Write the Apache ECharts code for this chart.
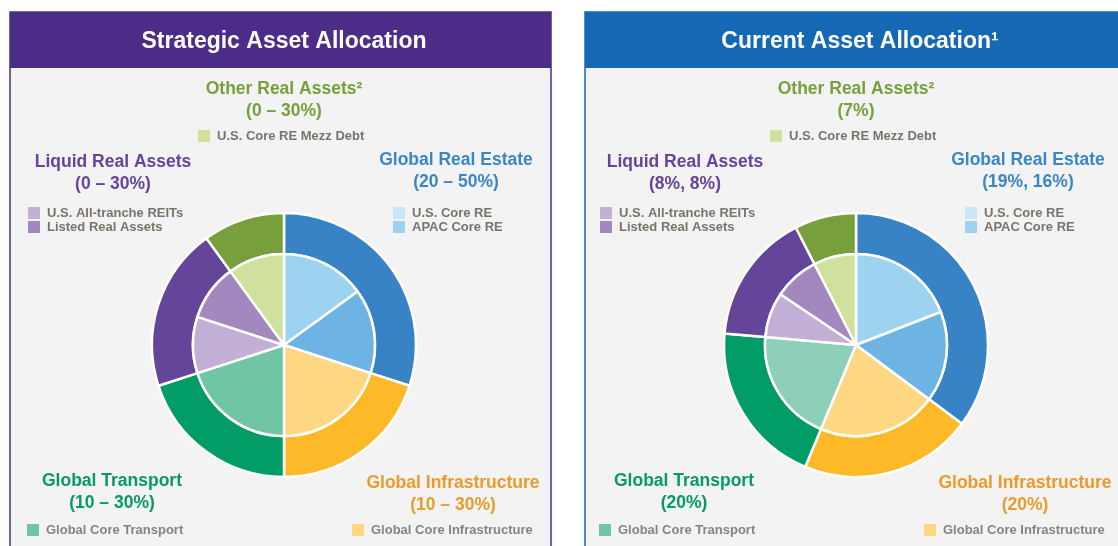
<!DOCTYPE html>
<html>
<head>
<meta charset="utf-8">
<title>Asset Allocation</title>
<script src="https://cdn.jsdelivr.net/npm/echarts@6/dist/echarts.min.js"></script>
<style>
  html, body { margin: 0; padding: 0; background: #fff; }
  #chart { width: 1118px; height: 546px; }
</style>
</head>
<body>
<div id="chart"></div>
<script>
// outer ring: asset classes, inner pie: strategies
const groupNames = ['Global Real Estate', 'Global Infrastructure', 'Global Transport', 'Liquid Real Assets', 'Other Real Assets']
const strategicGroups = [30, 20, 20, 20, 10]
const currentGroups = [35, 21, 20, 16, 7.5]
const strategicRanges = ['(20 – 50%)', '(10 – 30%)', '(10 – 30%)', '(0 – 30%)', '(0 – 30%)']
const currentRanges = ['(19%, 16%)', '(20%)', '(20%)', '(8%, 8%)', '(7%)']

const sliceNames = ['U.S. Core RE', 'APAC Core RE', 'Global Core Infrastructure', 'Global Core Transport', 'U.S. All-tranche REITs', 'Listed Real Assets', 'U.S. Core RE Mezz Debt']
const strategicSlices = [15, 15, 20, 20, 10, 10, 10]
const currentSlices = [19, 16, 21, 20, 8, 8, 7.5]

const panelTitles = ['Strategic Asset Allocation', 'Current Asset Allocation¹']

// colours
const groupColors = ['#3783c5', '#fdb927', '#029c66', '#65459a', '#77a03c']
const groupTextColors = ['#3a86c6', '#eb9b2a', '#079a66', '#66449b', '#77a03c']
const sliceColors = ['#9dd2f0', '#6db4e4', '#fdd782', '#70c6a3', '#c2afd6', '#a387bf', '#d0e19d']
const sliceColorsCurrent = ['#9dd2f0', '#6db4e4', '#fdd782', '#8ecfba', '#c2afd6', '#a387bf', '#d0e19d']
const legendColors = ['#c9e6f7', '#9dd2f0', '#fdd782', '#70c6a3', '#c2afd6', '#a387bf', '#d0e19d']

const FONT = '"Liberation Sans", Arial, sans-serif'
const panels = [
  { x: 10, w: 541, cx: 284, cy: 345, head: '#4b2c87', titleX: 284 },
  { x: 585, w: 540, cx: 856, cy: 345, head: '#1569b4', titleX: 860 }
]

// label layout relative to the pie centre
const labelLayout = [
  { g: 4, dx: 0, dy: -256, items: [6], sx: -86, ly: -209 },
  { g: 3, dx: -171, dy: -183, items: [4, 5], sx: -256, ly: -132 },
  { g: 0, dx: 172, dy: -185, items: [0, 1], sx: 109, ly: -132 },
  { g: 2, dx: -172, dy: 136, items: [3], sx: -257, ly: 185 },
  { g: 1, dx: 169, dy: 138, items: [2], sx: 68, ly: 185 }
]

const graphics = []
panels.forEach((p, i) => {
  graphics.push({
    type: 'rect', z: 0,
    shape: { x: p.x, y: 12, width: p.w, height: 560 },
    style: { fill: '#f2f3f2', stroke: p.head, lineWidth: 1.5 }
  })
  graphics.push({
    type: 'rect', z: 1,
    shape: { x: p.x, y: 12, width: p.w, height: 56 },
    style: { fill: p.head }
  })
  graphics.push({
    type: 'text', z: 2, x: p.titleX, y: 42,
    style: { text: panelTitles[i], fill: '#fff', font: 'bold 23px ' + FONT, textAlign: 'center', textVerticalAlign: 'middle' }
  })
  const ranges = i === 0 ? strategicRanges : currentRanges
  labelLayout.forEach(l => {
    const name = groupNames[l.g] + (l.g === 4 ? '²' : '')
    graphics.push({
      type: 'text', z: 2, x: p.cx + l.dx, y: p.cy + l.dy,
      style: { text: name, fill: groupTextColors[l.g], font: 'bold 17.5px ' + FONT, textAlign: 'center', textVerticalAlign: 'middle' }
    })
    graphics.push({
      type: 'text', z: 2, x: p.cx + l.dx, y: p.cy + l.dy + 22,
      style: { text: ranges[l.g], fill: groupTextColors[l.g], font: 'bold 17.5px ' + FONT, textAlign: 'center', textVerticalAlign: 'middle' }
    })
    l.items.forEach((s, k) => {
      const y = p.cy + l.ly + k * 14
      graphics.push({
        type: 'rect', z: 2,
        shape: { x: p.cx + l.sx, y: y - 6, width: 12, height: 12 },
        style: { fill: legendColors[s] }
      })
      graphics.push({
        type: 'text', z: 2, x: p.cx + l.sx + 19, y: y,
        style: { text: sliceNames[s], fill: l.ly > 0 ? '#848484' : '#7a736b', font: 'bold 13px ' + FONT, textAlign: 'left', textVerticalAlign: 'middle' }
      })
    })
  })
})

const makeSeries = (p, groups, slices, innerColors) => [
  {
    type: 'pie',
    center: [p.cx, p.cy],
    radius: [91, 132],
    startAngle: 90,
    silent: true,
    label: { show: false },
    labelLine: { show: false },
    itemStyle: { borderColor: '#fff', borderWidth: 2.5 },
    data: groups.map((v, i) => ({ name: groupNames[i], value: v, itemStyle: { color: groupColors[i] } }))
  },
  {
    type: 'pie',
    center: [p.cx, p.cy],
    radius: [0, 91],
    startAngle: 90,
    silent: true,
    label: { show: false },
    labelLine: { show: false },
    itemStyle: { borderColor: '#fff', borderWidth: 2.5 },
    data: slices.map((v, i) => ({ name: sliceNames[i], value: v, itemStyle: { color: innerColors[i] } }))
  }
]

const chart = echarts.init(document.getElementById('chart'))
chart.setOption({
  backgroundColor: '#fff',
  animation: false,
  graphic: graphics,
  series: [
    ...makeSeries(panels[0], strategicGroups, strategicSlices, sliceColors),
    ...makeSeries(panels[1], currentGroups, currentSlices, sliceColorsCurrent)
  ]
})
</script>
</body>
</html>
